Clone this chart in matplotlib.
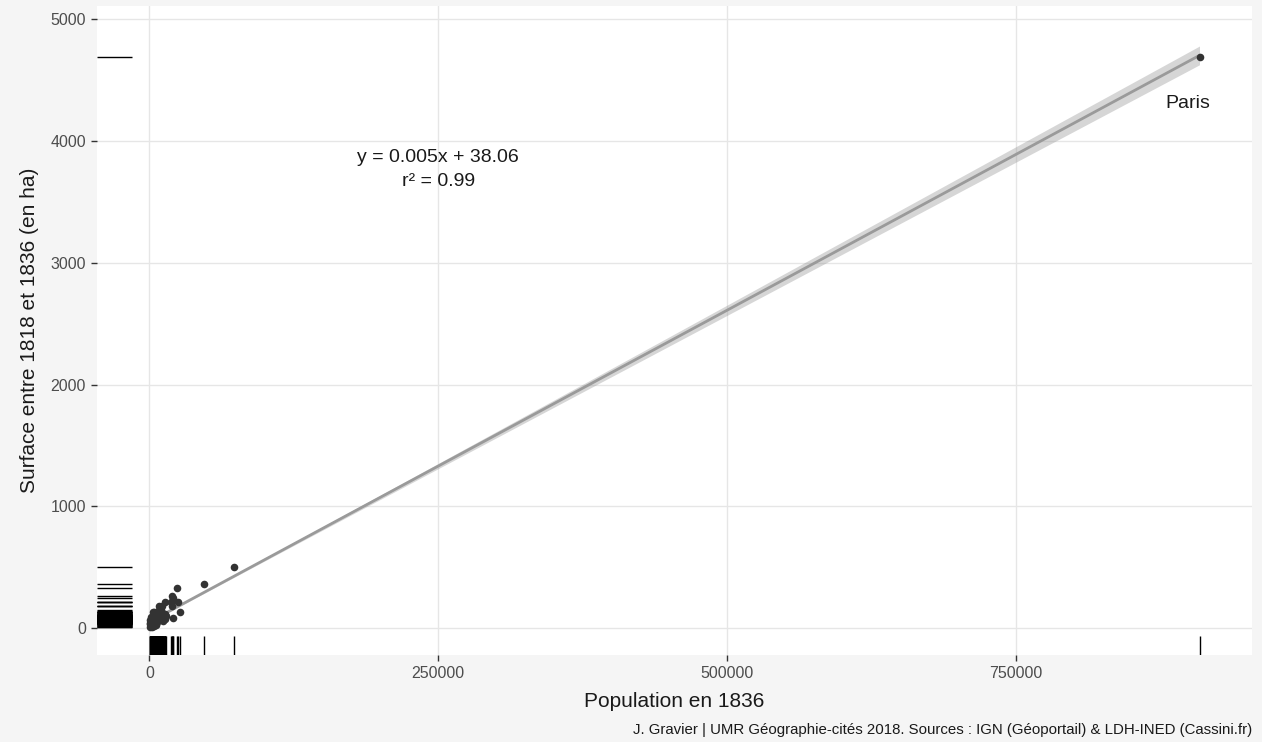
import numpy as np
import matplotlib
matplotlib.use("Agg")
import matplotlib.pyplot as plt

# ---- data ----
population = [909126, 72900, 47300, 24000, 19600, 20000, 24800, 19000, 13200, 10400,
              19900, 8400, 26200, 20400, 3200,
              500, 900, 1300, 1700, 2100, 2500, 2900, 3300, 3700, 4100,
              4500, 4900, 5300, 5700, 6100, 6500, 6900, 7300, 7700, 8100,
              8500, 8900, 9300, 9700, 10100, 10500, 10900, 11300, 11800, 12300,
              12800, 13300, 13800, 1000, 2300, 3000, 4300, 6000, 800, 1500,
              300, 600, 1100, 1400, 1900, 2200, 2600, 2700, 3100, 3400,
              3600, 3900, 4000, 4400, 4700, 5000, 5100, 5500, 5600, 5900,
              6200, 6400, 6700, 7000, 7100, 7500, 7800, 7900, 8200, 8700,
              8800, 9000, 9400, 9500, 9900, 10200, 10700, 11100, 11600, 12000,
              12500, 13000, 13500, 13900, 2000]
surface = [4688, 504, 364, 326, 266, 244, 216, 216, 216, 181,
           181, 181, 134, 80, 134,
           10, 25, 18, 40, 30, 55, 45, 70, 20, 85,
           60, 100, 35, 120, 75, 50, 95, 140, 65, 110,
           88, 130, 72, 105, 148, 92, 125, 58, 115, 100,
           82, 70, 110, 48, 12, 100, 128, 28, 65, 90,
           45, 30, 48, 36, 55, 40, 54, 44, 60, 46,
           62, 50, 66, 52, 70, 56, 72, 58, 76, 62,
           80, 64, 82, 66, 84, 68, 88, 72, 90, 74,
           94, 78, 96, 80, 98, 82, 102, 86, 106, 90,
           112, 94, 116, 98, 62]
label_name = "Paris"
equation_text = "y = 0.005x + 38.06\nr² = 0.99"
x_ticks = [0, 250000, 500000, 750000]
y_ticks = [0, 1000, 2000, 3000, 4000, 5000]

x = np.array(population, dtype=float)
y = np.array(surface, dtype=float)

# linear fit + 95% confidence band
n = len(x)
b, a = np.polyfit(x, y, 1)
resid = y - (a + b * x)
sigma = np.sqrt(np.sum(resid ** 2) / (n - 2))
xbar = x.mean()
sxx = np.sum((x - xbar) ** 2)
xs = np.linspace(x.min(), x.max(), 200)
fit = a + b * xs
se = sigma * np.sqrt(1.0 / n + (xs - xbar) ** 2 / sxx)
tval = 1.984

plt.rcParams['font.family'] = ['Liberation Sans', 'DejaVu Sans']

fig = plt.figure(figsize=(12.62, 7.42), dpi=100, facecolor='#f5f5f5')
ax = fig.add_axes([97 / 1262, 87 / 742, (1252 - 97) / 1262, (655 - 6) / 742])
ax.set_facecolor('white')
for s in ax.spines.values():
    s.set_visible(False)

ax.set_xlim(-45456, 954582)
ax.set_ylim(-222, 5110)
ax.set_xticks(x_ticks)
ax.set_xticklabels([str(v) for v in x_ticks])
ax.set_yticks(y_ticks)
ax.set_yticklabels([str(v) for v in y_ticks])
ax.grid(True, color='#e6e6e6', linewidth=1.0, zorder=0)
ax.set_axisbelow(True)
ax.tick_params(axis='both', colors='#333333', labelcolor='#4d4d4d', labelsize=11.5,
               length=4, width=1, direction='out', pad=4)

ax.fill_between(xs, fit - tval * se, fit + tval * se, color='#999999', alpha=0.4,
                linewidth=0, zorder=2)
ax.plot(xs, fit, color='#9a9a9a', linewidth=2, zorder=3)
ax.scatter(x, y, s=30, color='#333333', zorder=4, linewidths=0)

# rugs
ax.vlines(x, 0, 0.03, transform=ax.get_xaxis_transform(), color='black', linewidth=1, zorder=5)
ax.hlines(y, 0, 0.03, transform=ax.get_yaxis_transform(), color='black', linewidth=1, zorder=5)

ax.text(250000, 3770, equation_text, ha='center', va='center', fontsize=14,
        color='#1a1a1a', linespacing=1.55)
ax.text(x[0] - 10000, y[0] - 380, label_name, ha='center', va='center', fontsize=14,
        color='#1a1a1a')

ax.set_xlabel("Population en 1836", fontsize=15, color='#1a1a1a', labelpad=8)
ax.set_ylabel("Surface entre 1818 et 1836 (en ha)", fontsize=15, color='#1a1a1a', labelpad=8)

fig.text(1252 / 1262, 12 / 742,
         "J. Gravier | UMR Géographie-cités 2018. Sources : IGN (Géoportail) & LDH-INED (Cassini.fr)",
         ha='right', va='center', fontsize=10.8, color='#1a1a1a')

fig.savefig("out.png", dpi=100, facecolor=fig.get_facecolor())
